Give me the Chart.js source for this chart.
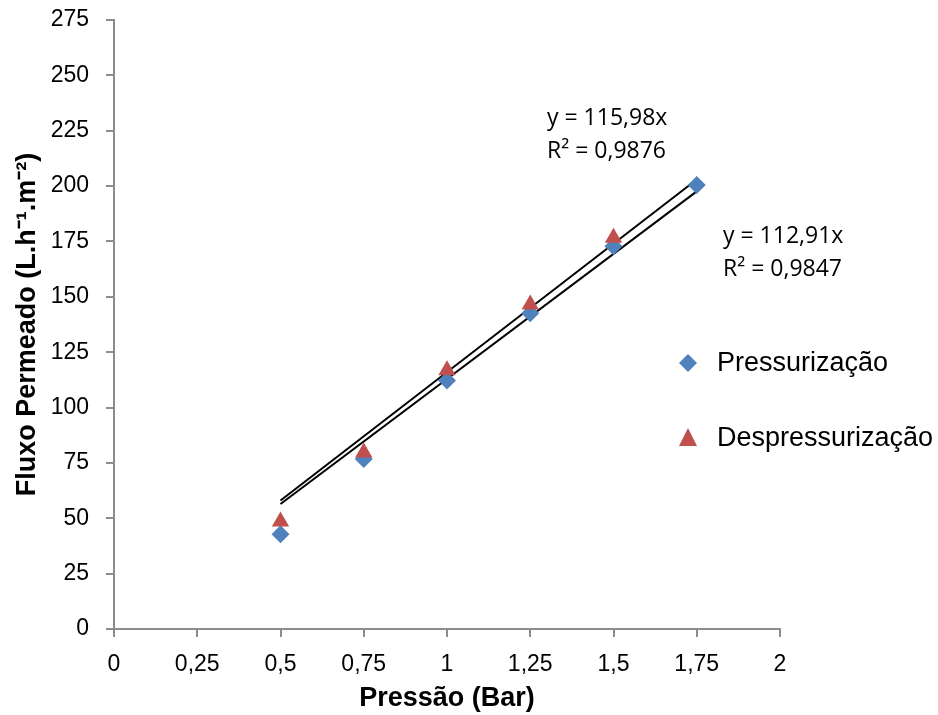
<!DOCTYPE html>
<html>
<head>
<meta charset="utf-8">
<script src="https://cdn.jsdelivr.net/npm/chart.js@4.4.1/dist/chart.umd.min.js"></script>
<style>
  html, body { margin: 0; padding: 0; background: #fff; }
  #wrap { width: 938px; height: 715px; }
</style>
</head>
<body>
<div id="wrap"><canvas id="grafico" width="938" height="715"></canvas></div>
<script>
// pressão (bar) e fluxo permeado medidos
var pressaoPress = [0.5, 0.75, 1.0, 1.25, 1.5, 1.75];
var fluxoPress = [42.8, 76.8, 112.2, 142.6, 172.8, 200.5];
var pressaoDesp = [0.5, 0.75, 1.0, 1.25, 1.5];
var fluxoDesp = [48.5, 79.7, 116.8, 146.5, 176.7];

// linhas de tendência (passando pela origem)
var inclinacaoDesp = 115.98;
var r2Desp = '0,9876';
var inclinacaoPress = 112.91;
var r2Press = '0,9847';
var tendenciaX = [0.5, 1.75];

var xTicks = [0, 0.25, 0.5, 0.75, 1, 1.25, 1.5, 1.75, 2];
var yTicks = [0, 25, 50, 75, 100, 125, 150, 175, 200, 225, 250, 275];

var azul = '#4f81bd';
var vermelho = '#c0504d';
var eixo = '#8c8c8c';

function pontos(xs, ys) {
    return xs.map(function (x, i) { return { x: x, y: ys[i] }; });
}

function tendencia(a) {
    return tendenciaX.map(function (x) { return { x: x, y: a * x }; });
}

function virgula(v) {
    return String(v).replace('.', ',');
}

// legenda e equações desenhadas à mão
var extras = {
    id: 'extras',
    afterDraw: function (chart) {
        var ctx = chart.ctx;
        ctx.save();

        // equações
        ctx.fillStyle = '#000';
        ctx.font = '23px "Open Sans"';
        ctx.textAlign = 'left';
        ctx.textBaseline = 'middle';
        ctx.fillText('y = ' + virgula(inclinacaoDesp.toFixed(2)) + 'x', 547, 118);
        ctx.fillText('R² = ' + r2Desp, 547, 151);
        ctx.fillText('y = ' + virgula(inclinacaoPress.toFixed(2)) + 'x', 723, 236);
        ctx.fillText('R² = ' + r2Press, 723, 269);

        // legenda
        var lx = 688;
        ctx.fillStyle = azul;
        ctx.beginPath();
        ctx.moveTo(lx, 354); ctx.lineTo(lx + 9, 363); ctx.lineTo(lx, 372); ctx.lineTo(lx - 9, 363);
        ctx.closePath();
        ctx.fill();

        ctx.fillStyle = vermelho;
        ctx.beginPath();
        ctx.moveTo(lx, 428); ctx.lineTo(lx + 9, 446); ctx.lineTo(lx - 9, 446);
        ctx.closePath();
        ctx.fill();

        ctx.fillStyle = '#000';
        ctx.font = '27px "Liberation Sans"';
        ctx.fillText('Pressurização', 717, 364);
        ctx.fillText('Despressurização', 717, 439);
        ctx.restore();
    }
};

var ctx = document.getElementById('grafico').getContext('2d');
var chart = new Chart(ctx, {
    type: 'scatter',
    data: {
        datasets: [
            {
                type: 'line',
                label: 'Tendência Despressurização',
                data: tendencia(inclinacaoDesp),
                borderColor: '#000',
                borderWidth: 2,
                pointRadius: 0,
                fill: false,
                order: 3
            },
            {
                type: 'line',
                label: 'Tendência Pressurização',
                data: tendencia(inclinacaoPress),
                borderColor: '#000',
                borderWidth: 2,
                pointRadius: 0,
                fill: false,
                order: 3
            },
            {
                label: 'Pressurização',
                data: pontos(pressaoPress, fluxoPress),
                pointStyle: 'rectRot',
                pointRadius: 9,
                backgroundColor: azul,
                borderColor: azul,
                borderWidth: 0,
                order: 2
            },
            {
                label: 'Despressurização',
                data: pontos(pressaoDesp, fluxoDesp),
                pointStyle: 'triangle',
                pointRadius: 10,
                backgroundColor: vermelho,
                borderColor: vermelho,
                borderWidth: 0,
                order: 1
            }
        ]
    },
    options: {
        responsive: false,
        animation: false,
        events: [],
        layout: { autoPadding: false, padding: { left: 0, top: 20, right: 158, bottom: 0 } },
        plugins: {
            legend: { display: false },
            tooltip: { enabled: false }
        },
        scales: {
            x: {
                type: 'linear',
                min: 0,
                max: 2,
                afterBuildTicks: function (scale) {
                    scale.ticks = xTicks.map(function (v) { return { value: v }; });
                },
                afterFit: function (scale) { scale.height = 86; },
                grid: { drawOnChartArea: false, drawTicks: true, tickLength: 8, color: eixo, lineWidth: 2 },
                border: { color: eixo, width: 2 },
                ticks: {
                    padding: 16,
                    color: '#000',
                    font: { family: 'Liberation Sans', size: 23, lineHeight: 1 },
                    callback: function (v) { return virgula(v); }
                },
                title: {
                    display: true,
                    text: 'Pressão (Bar)',
                    color: '#000',
                    font: { family: 'Liberation Sans', size: 27, weight: 'bold' },
                    padding: { top: 0, bottom: 0 }
                }
            },
            y: {
                type: 'linear',
                min: 0,
                max: 275,
                afterBuildTicks: function (scale) {
                    scale.ticks = yTicks.map(function (v) { return { value: v }; });
                },
                afterFit: function (scale) {
                    scale.width = 114;
                    scale.paddingTop = 0;
                    scale.paddingBottom = 0;
                },
                grid: { drawOnChartArea: false, drawTicks: true, tickLength: 8, color: eixo, lineWidth: 2 },
                border: { color: eixo, width: 2 },
                ticks: {
                    padding: 17,
                    color: '#000',
                    font: { family: 'Liberation Sans', size: 23, lineHeight: 1 }
                },
                title: {
                    display: true,
                    text: 'Fluxo Permeado (L.h⁻¹.m⁻²)',
                    color: '#000',
                    font: { family: 'Liberation Sans', size: 27, weight: 'bold' },
                    padding: { top: 11, bottom: 0 }
                }
            }
        }
    },
    plugins: [extras]
});
</script>
</body>
</html>
